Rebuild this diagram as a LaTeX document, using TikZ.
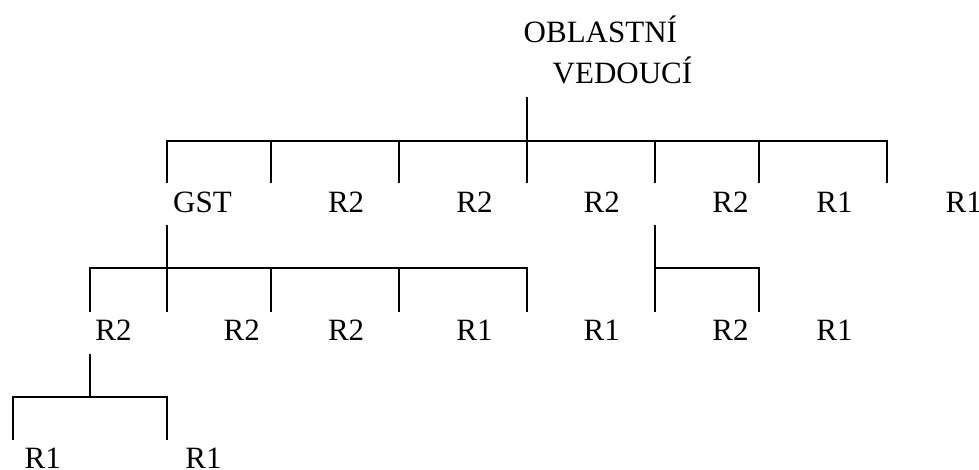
\documentclass[tikz,border=0pt]{standalone}
\usepackage{fontspec}
\setmainfont{Liberation Serif}
\begin{document}
\begin{tikzpicture}[x=1pt,y=-1pt,
  lbl/.style={anchor=base west,inner sep=0pt,font=\fontsize{31}{37}\selectfont},
  ln/.style={line width=2pt}]
\useasboundingbox (0,0) rectangle (979,470);
% texts
\node[lbl] (root) at (523.5,42.7) {OBLASTNÍ};
\node[lbl] (rootb) at (552.5,83.3) {VEDOUCÍ};
\node[lbl] (gst) at (173,213) {GST};
\node[lbl] (a2) at (327.8,213) {R2};
\node[lbl] (a3) at (456.2,213) {R2};
\node[lbl] (a4) at (583.5,213) {R2};
\node[lbl] (a5) at (712.2,213) {R2};
\node[lbl] (a6) at (816.2,213) {R1};
\node[lbl] (a7) at (945.5,213) {R1};
\node[lbl] (b1) at (95.2,340.7) {R2};
\node[lbl] (b2) at (223.5,340.7) {R2};
\node[lbl] (b3) at (327.8,340.7) {R2};
\node[lbl] (b4) at (456.2,340.7) {R1};
\node[lbl] (b5) at (583.5,340.7) {R1};
\node[lbl] (b6) at (712.2,340.7) {R2};
\node[lbl] (b7) at (816.2,340.7) {R1};
\node[lbl] (c1) at (24.5,468.5) {R1};
\node[lbl] (c2) at (185.2,468.5) {R1};
% level 1
\coordinate (s0) at (526.7,96.7);
\foreach \n/\x in {a/166.7,b/270.7,c/399,d/526.7,e/655,f/758.7,g/886.7} {
  \coordinate (t\n) at (\x,141);
  \coordinate (u\n) at (\x,183.3);
}
\draw[ln] (ua) -- (ta) -- (tg) -- (ug);
\foreach \n in {b,c,e,f} \draw[ln] (t\n) -- (u\n);
\draw[ln] (s0) -- (ud);
% GST subtree
\coordinate (gs) at (166.7,225.3);
\foreach \n/\x in {a/90,b/166.7,c/270.7,d/399,e/527} {
  \coordinate (v\n) at (\x,268.3);
  \coordinate (w\n) at (\x,311.7);
}
\draw[ln] (gs) -- (wb);
\draw[ln] (wa) -- (va) -- (ve) -- (we);
\foreach \n in {c,d} \draw[ln] (v\n) -- (w\n);
% second subtree
\coordinate (es) at (655,225.3);
\coordinate (ex) at (655,268.3);
\coordinate (ey) at (655,311.7);
\coordinate (fx) at (758.7,268.3);
\coordinate (fy) at (758.7,311.7);
\draw[ln] (es) -- (ey);
\draw[ln] (ex) -- (fx) -- (fy);
% third level
\coordinate (ks) at (90,354);
\coordinate (km) at (90,396.7);
\coordinate (ka) at (13.3,396.7);
\coordinate (kb) at (166.7,396.7);
\coordinate (la) at (13.3,440);
\coordinate (lb) at (166.7,440);
\draw[ln] (ks) -- (km);
\draw[ln] (la) -- (ka) -- (kb) -- (lb);
\end{tikzpicture}
\end{document}
